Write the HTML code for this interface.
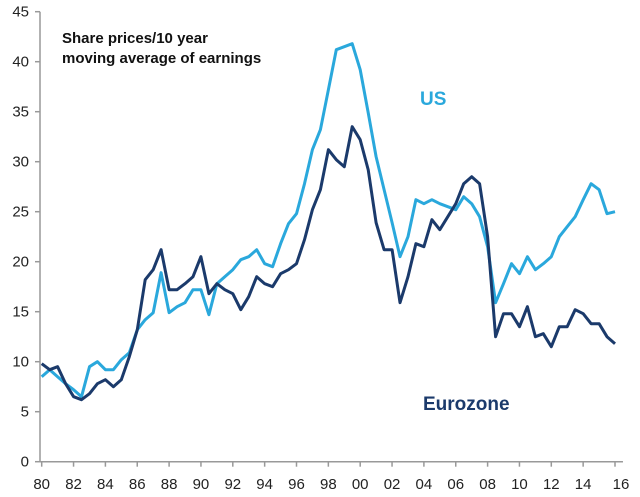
<!DOCTYPE html>
<html><head><meta charset="utf-8"><style>
body{margin:0;background:#fff;}
svg{display:block;font-family:"Liberation Sans",Arial,sans-serif;}
</style></head><body>
<svg id="chart" width="640" height="497" viewBox="0 0 640 497">
<g id="axes"></g>
<g id="series"></g>
<text x="62" y="43" font-size="15" font-weight="bold" fill="#111">Share prices/10 year</text>
<text x="62" y="63" font-size="15" font-weight="bold" fill="#111">moving average of earnings</text>
<text x="420" y="105" font-size="19" font-weight="bold" fill="#2aa8dc">US</text>
<text x="423" y="410" font-size="19" font-weight="bold" fill="#1b3a6b">Eurozone</text>
</svg>
<script>
const years = [];
for (let i = 0; i <= 72; i++) years.push(1980 + i * 0.5);
const usValues = [8.5,9.2,8.5,7.8,7.2,6.5,9.5,10,9.2,9.2,10.2,10.9,13.2,14.2,14.9,18.9,14.9,15.5,15.9,17.2,17.2,14.7,17.8,18.5,19.2,20.2,20.5,21.2,19.8,19.5,21.8,23.8,24.8,27.8,31.2,33.2,37.2,41.2,41.5,41.8,39.2,34.9,30.5,27.2,23.9,20.5,22.5,26.2,25.8,26.2,25.8,25.5,25.2,26.5,25.8,24.5,21.5,15.9,17.8,19.8,18.8,20.5,19.2,19.8,20.5,22.5,23.5,24.5,26.2,27.8,27.2,24.8,25.0];
const euroValues = [9.8,9.2,9.5,7.8,6.5,6.2,6.8,7.8,8.2,7.5,8.2,10.5,13.2,18.2,19.2,21.2,17.2,17.2,17.8,18.5,20.5,16.8,17.8,17.2,16.8,15.2,16.5,18.5,17.8,17.5,18.8,19.2,19.8,22.2,25.2,27.2,31.2,30.2,29.5,33.5,32.2,29.2,23.9,21.2,21.2,15.9,18.5,21.8,21.5,24.2,23.2,24.5,25.8,27.8,28.5,27.8,22.5,12.5,14.8,14.8,13.5,15.5,12.5,12.8,11.5,13.5,13.5,15.2,14.8,13.8,13.8,12.5,11.8];
const yTicks = [0,5,10,15,20,25,30,35,40,45];
const xTickYears = [1980,1982,1984,1986,1988,1990,1992,1994,1996,1998,2000,2002,2004,2006,2008,2010,2012,2014,2016];
const xTickLabels = ["80","82","84","86","88","90","92","94","96","98","00","02","04","06","08","10","12","14","16"];

const NS = "http://www.w3.org/2000/svg";
function xScale(yr){ return 41.7 + (yr - 1980) * 15.925; }
function yScale(v){ return 461.7 - v * 10; }
function mk(tag, attrs, parent){ const e=document.createElementNS(NS,tag); for(const k in attrs) e.setAttribute(k,attrs[k]); parent.appendChild(e); return e; }

const axes = document.getElementById('axes');
const yAxis = mk('line',{x1:40,y1:yScale(45),x2:40,y2:yScale(0),stroke:'#999','stroke-width':1.5},axes);


const xAxis = mk('line',{x1:40,y1:yScale(0),x2:xScale(2016.5),y2:yScale(0),stroke:'#999','stroke-width':1.5},axes);


yTicks.forEach(v=>{
  const t = mk('line',{x1:35,y1:yScale(v),x2:40,y2:yScale(v),stroke:'#999','stroke-width':1.5},axes);
  
  
  const l = mk('text',{x:29,y:yScale(v)+5,'font-size':15,'text-anchor':'end',fill:'#222'},axes);
  l.textContent = v;
  
  
});
xTickYears.forEach((yr,i)=>{
  const x = xScale(yr);
  const t = mk('line',{x1:x,y1:yScale(0),x2:x,y2:yScale(0)+5,stroke:'#999','stroke-width':1.5},axes);
  
  
  const l = mk('text',{x:x+ (i===xTickYears.length-1?6:0),y:489,'font-size':15,'text-anchor':'middle',fill:'#222'},axes);
  l.textContent = xTickLabels[i];
  
  
});

const series = document.getElementById('series');
function drawLine(vals,color,name){
  const d = vals.map((v,i)=>(i?'L':'M')+xScale(years[i]).toFixed(1)+','+yScale(v).toFixed(1)).join(' ');
  const p = mk('path',{d:d,fill:'none',stroke:color,'stroke-width':3,'stroke-linejoin':'round'},series);
  
  
}
drawLine(usValues,'#2aa8dc','us-line');
drawLine(euroValues,'#1b3a6b','eurozone-line');
</script>
</body></html>
